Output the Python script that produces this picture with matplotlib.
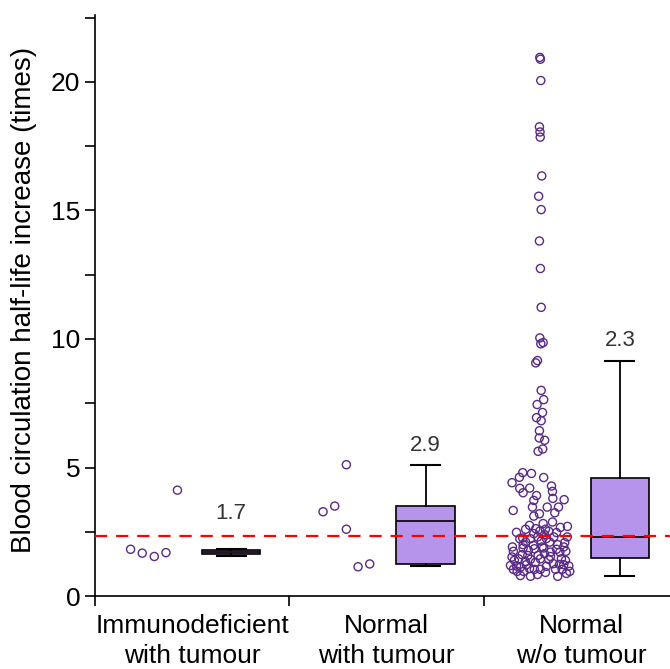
import numpy as np
import matplotlib
matplotlib.use('Agg')
import matplotlib.pyplot as plt
from matplotlib.ticker import MultipleLocator, FixedLocator

plt.rcParams['font.family'] = ['Liberation Sans', 'DejaVu Sans']

# groups
categories = ['Immunodeficient\nwith tumour', 'Normal\nwith tumour', 'Normal\nw/o tumour']

# individual half-life increases and their horizontal jitter
g1_y = [1.82, 1.67, 1.54, 1.69, 4.12]
g1_jit = [-0.117, -0.057, 0.005, 0.065, 0.124]

g2_y = [3.28, 3.50, 5.11, 2.60, 1.14, 1.25]
g2_jit = [-0.127, -0.067, -0.007, -0.007, 0.053, 0.113]

g3_y = [4.80, 4.77, 4.62, 4.61, 4.41, 4.19, 4.20, 4.02, 4.28, 4.07, 3.91, 3.80, 3.72,
        3.75, 3.46, 3.46, 3.46, 3.33, 3.20, 3.11, 3.24, 2.82, 2.88, 2.71, 2.60, 2.62,
        2.53, 2.60, 2.52, 2.47, 2.43, 2.39, 2.26, 2.30, 2.30, 2.30, 2.23, 2.23, 2.24,
        2.10, 2.14, 2.10, 2.08, 1.91, 2.00, 1.97, 1.91, 2.00, 1.91, 2.75, 2.48, 2.67,
        1.87, 1.84, 1.87, 1.82, 1.74, 1.61, 1.52, 1.58, 1.58, 1.65, 1.71, 1.71, 1.45,
        1.43, 1.45, 1.43, 1.45, 1.19, 1.17, 1.22, 1.26, 1.22, 1.17, 0.96, 0.96, 1.04,
        1.04, 0.96, 0.77, 0.77, 1.31, 1.16, 1.74, 1.78, 1.04, 1.39, 1.12,
        1.39, 1.35, 0.92, 1.04, 1.54, 1.04, 1.23, 1.07, 0.88, 0.80, 0.84,
        20.95, 20.88, 20.05, 18.25, 18.05, 17.85, 16.34, 15.55, 15.03, 13.81, 12.74,
        11.23, 10.04, 9.86, 9.81, 9.16, 9.07, 8.00, 7.64, 7.45, 7.14, 6.94, 6.82,
        6.43, 6.15, 6.06, 5.72, 5.63]
g3_jit = [-0.100, -0.055, -0.117, 0.008, -0.155, -0.115, -0.064, -0.098, 0.048, 0.053,
          -0.029, 0.055, -0.043, 0.113, -0.050, 0.026, 0.084, -0.149, -0.014, -0.043,
          0.065, 0.005, 0.053, 0.130, -0.085, -0.033, -0.012, 0.017, 0.034, 0.074,
          -0.043, 0.012, -0.100, -0.023, 0.060, 0.129, -0.115, -0.060, 0.022, -0.085,
          -0.005, 0.039, 0.116, -0.153, -0.098, -0.046, 0.000, 0.080, 0.111, -0.065,
          -0.132, 0.094, -0.098, -0.040, 0.008, 0.074, 0.122, -0.103, -0.155, -0.074,
          -0.021, 0.012, 0.043, 0.091, -0.121, -0.060, -0.009, 0.034, 0.099, -0.163,
          -0.132, -0.081, 0.057, 0.111, 0.137, -0.129, -0.095, -0.009, 0.103, 0.142,
          -0.060, 0.080, -0.035, 0.022, -0.148, -0.071, 0.069, 0.120, -0.112,
          -0.143, -0.086, 0.017, -0.040, 0.043, -0.148, 0.089, -0.065, 0.125, -0.112, -0.024,
          -0.012, -0.009, -0.007, -0.014, -0.011, -0.010, -0.002, -0.018, -0.005, -0.014,
          -0.009, -0.005, -0.012, 0.005, -0.007, -0.024, -0.033, -0.005, 0.008, -0.026,
          0.002, -0.029, -0.005, -0.014, -0.015, 0.013, 0.003, -0.021]

# box statistics
q1 = [1.65, 1.25, 1.48]
med = [1.70, 2.93, 2.31]
q3 = [1.80, 3.49, 4.61]
whislo = [1.54, 1.17, 0.78]
whishi = [1.82, 5.11, 9.16]
med_labels = ['1.7', '2.9', '2.3']
label_y = [3.2, 5.85, 9.95]

ref_line = 2.33

fig = plt.figure(figsize=(6.7, 6.69), dpi=100)
ax = fig.add_axes([0.1418, 0.109, 0.8705, 0.8686])

pt_color = '#5B2A86'
scat_off = -0.2
box_off = 0.2

for i, (ys, jit) in enumerate([(g1_y, g1_jit), (g2_y, g2_jit), (g3_y, g3_jit)]):
    xs = i + scat_off + np.array(jit)
    ax.scatter(xs, ys, s=34, facecolors='none', edgecolors=pt_color,
               linewidths=1.0, zorder=3, clip_on=False)

stats = []
for i in range(3):
    stats.append({'q1': q1[i], 'med': med[i], 'q3': q3[i],
                  'whislo': whislo[i], 'whishi': whishi[i], 'fliers': []})

ax.bxp(stats, positions=[i + box_off for i in range(3)], widths=0.3,
       patch_artist=True, showfliers=False, capwidths=0.15,
       boxprops=dict(facecolor='#B794EB', edgecolor='black', linewidth=1.2),
       medianprops=dict(color='black', linewidth=1.2),
       whiskerprops=dict(color='black', linewidth=1.3),
       capprops=dict(color='black', linewidth=1.5), manage_ticks=False)

for i in range(3):
    ax.text(i + box_off, label_y[i], med_labels[i], ha='center', va='center',
            fontsize=16, color='#333333')

ax.axhline(ref_line, color='red', linewidth=1.6, dashes=(5.5, 4), zorder=4)

ax.set_xlim(-0.5, 2.5)
ax.set_ylim(0, 22.6)
ax.spines['top'].set_visible(False)
ax.spines['right'].set_visible(False)
for sp in ['left', 'bottom']:
    ax.spines[sp].set_linewidth(1.2)

ax.yaxis.set_major_locator(MultipleLocator(5))
ax.yaxis.set_minor_locator(MultipleLocator(2.5))
ax.xaxis.set_major_locator(FixedLocator([0, 1, 2]))
ax.xaxis.set_minor_locator(FixedLocator([-0.5, 0.5, 1.5]))
ax.set_xticklabels(categories, linespacing=1.3)
ax.tick_params(axis='x', which='major', length=0, labelsize=19, pad=13)
ax.tick_params(axis='x', which='minor', length=7, width=1.2)
ax.tick_params(axis='y', which='both', length=7, width=1.2, labelsize=19)
ax.set_ylabel('Blood circulation half-life increase (times)', fontsize=20)
ax.yaxis.set_label_coords(-0.1, 0.51)

fig.savefig('out.png', dpi=100)
